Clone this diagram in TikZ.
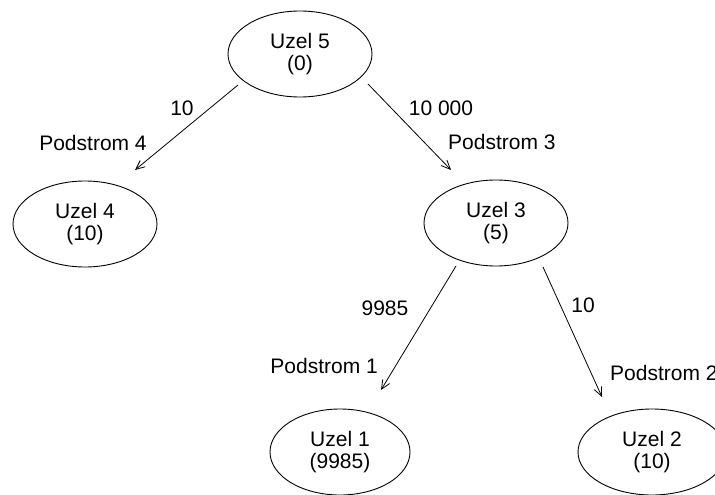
\documentclass[tikz,border=0pt]{standalone}
\usepackage{fontspec}
\setmainfont{Liberation Sans}
\usetikzlibrary{shapes.geometric,arrows.meta,calc}
\begin{document}
\begin{tikzpicture}[x=1pt,y=-1pt,
  uzel/.style={draw, ellipse, line width=0.9pt, minimum width=144pt, minimum height=86pt,
    inner sep=0pt, align=center, font=\fontsize{21}{22}\selectfont},
  lbl/.style={font=\fontsize{21}{22}\selectfont, inner sep=0pt},
  hrana/.style={line width=0.8pt, -{Straight Barb[length=9pt,width=8pt]}}
]
\useasboundingbox (0,0) rectangle (715,495);
\clip (0,0) rectangle (715,495);
\node[uzel] (u5) at (300,54) {Uzel 5\\(0)};
\node[uzel] (u4) at (85,224) {Uzel 4\\(10)};
\node[uzel] (u3) at (496,223) {Uzel 3\\(5)};
\node[uzel, minimum width=140pt] (u1) at (340,452) {Uzel 1\\(9985)};
\node[uzel, minimum width=148pt] (u2) at (652,452) {Uzel 2\\(10)};

\draw[hrana] ($(u5)+(-62,31)$) -- ($(u4)+(50,-54)$);
\draw[hrana] ($(u5)+(68,30)$) -- ($(u3)+(-45,-53)$);
\draw[hrana] ($(u3)+(-40,43)$) -- ($(u1)+(41,-62)$);
\draw[hrana] ($(u3)+(47,44)$) -- ($(u2)+(-50,-55)$);

\node[lbl, anchor=base] (l54) at (182,115) {10};
\node[lbl, anchor=base] (p4) at (93,150) {Podstrom 4};
\node[lbl, anchor=base] (l53) at (441,115) {10 000};
\node[lbl, anchor=base west] (p3) at (448,149) {Podstrom 3};
\node[lbl, anchor=base] (l31) at (385,315) {9985};
\node[lbl, anchor=base east] (p1) at (378,373) {Podstrom 1};
\node[lbl, anchor=base] (l32) at (583,312) {10};
\node[lbl, anchor=base west] (p2) at (610,380) {Podstrom 2};
\end{tikzpicture}
\end{document}
